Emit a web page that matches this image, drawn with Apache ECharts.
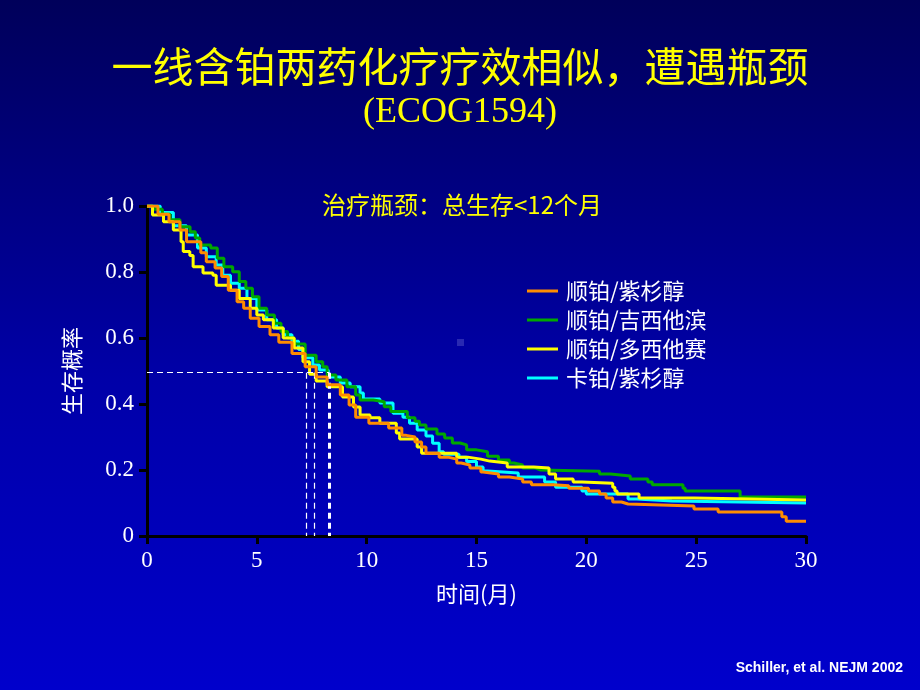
<!DOCTYPE html>
<html><head><meta charset="utf-8">
<script src="https://cdn.jsdelivr.net/npm/echarts@6/dist/echarts.min.js"></script>
<style>
html,body{margin:0;padding:0;width:920px;height:690px;overflow:hidden;background:linear-gradient(to bottom,#00005a 0%,#0000a8 55%,#0000cc 100%);}
#c{width:920px;height:690px;}
</style>
</head><body><div id="c"></div>
<script>
// ---- data ----
const seriesNames = ['顺铂/紫杉醇', '顺铂/吉西他滨', '顺铂/多西他赛', '卡铂/紫杉醇'];
const seriesColors = ['#ff8c00', '#00a800', '#ffff00', '#00ffff'];

const orangeT = [0,0.5,1.0,1.5,1.8,2.45,2.7,3.1,3.4,3.7,4.1,4.4,4.7,5.1,5.6,6.0,6.6,7.2,7.7,8.2,8.8,9.2,9.5,10.1,11.0,11.6,11.8,12.2,12.5,12.7,13.3,13.7,14.1,14.3,14.7,15.2,15.3,16.0,16.5,17.1,17.5,18.5,19.2,20.1,20.6,20.9,21.2,21.6,21.9,24.9,26.0,28.9,29.1,30];
const orangeS = [1.0,0.975,0.952,0.927,0.892,0.858,0.831,0.812,0.786,0.745,0.71,0.69,0.66,0.635,0.61,0.587,0.553,0.513,0.482,0.458,0.427,0.397,0.36,0.342,0.327,0.305,0.3,0.285,0.27,0.251,0.239,0.233,0.221,0.215,0.206,0.194,0.188,0.179,0.173,0.164,0.155,0.152,0.145,0.136,0.127,0.115,0.103,0.097,0.091,0.082,0.073,0.058,0.045,0.045];

const greenT = [0,0.3,0.7,1.05,1.5,1.96,2.2,2.4,2.9,3.2,3.5,3.9,4.2,4.5,4.8,5.1,5.45,5.8,6.1,6.4,6.7,7.2,7.7,8.0,8.2,8.6,9.1,9.5,9.7,10.3,10.8,11.1,11.85,12.2,12.4,12.7,13.2,13.55,13.9,14.25,14.55,15.0,15.5,16.0,16.5,16.7,17.1,17.7,17.9,20.6,21.1,22.0,22.8,23.0,24.4,24.5,27.0,30];
const greenS = [1.0,0.99,0.975,0.958,0.937,0.922,0.903,0.882,0.873,0.842,0.816,0.801,0.771,0.751,0.725,0.69,0.67,0.645,0.62,0.6,0.582,0.548,0.528,0.513,0.488,0.473,0.452,0.427,0.412,0.407,0.392,0.377,0.358,0.348,0.336,0.324,0.309,0.297,0.282,0.276,0.261,0.255,0.242,0.23,0.221,0.215,0.206,0.2,0.196,0.188,0.182,0.173,0.164,0.155,0.145,0.136,0.118,0.118];

const yellowT = [0,0.25,0.75,1.2,1.55,1.65,1.95,2.1,2.55,3.0,3.15,3.8,4.2,4.7,5.0,5.3,5.75,6.2,6.7,7.1,7.4,7.7,8.2,8.9,9.4,9.7,10.15,10.6,11.35,11.5,12.3,12.5,14.1,14.6,15.2,15.6,16.4,17.6,18.3,18.6,19.4,19.8,21.2,21.3,21.4,22.4,24.9,30];
const yellowS = [1.0,0.973,0.952,0.927,0.892,0.862,0.85,0.816,0.797,0.79,0.76,0.745,0.72,0.69,0.67,0.655,0.63,0.6,0.57,0.528,0.49,0.47,0.452,0.421,0.391,0.367,0.358,0.342,0.312,0.294,0.27,0.251,0.239,0.233,0.227,0.221,0.209,0.206,0.188,0.173,0.164,0.16,0.148,0.136,0.127,0.115,0.109,0.109];

const cyanT = [0,0.6,1.2,1.8,2.3,2.7,3.15,3.45,3.8,4.2,4.55,5.0,5.45,5.9,6.2,6.6,6.9,7.1,7.55,7.85,8.25,8.8,9.25,9.7,9.85,10.6,11.2,11.65,11.95,12.3,12.7,13.0,13.3,13.5,14.2,14.55,15.0,15.3,15.5,16.9,18.1,18.6,19.8,20.0,21.9,22.3,23.9,30];
const cyanS = [1.0,0.98,0.94,0.912,0.873,0.846,0.821,0.79,0.766,0.751,0.72,0.685,0.655,0.63,0.61,0.59,0.565,0.54,0.518,0.503,0.482,0.464,0.452,0.433,0.415,0.403,0.372,0.36,0.342,0.321,0.303,0.281,0.255,0.248,0.239,0.226,0.209,0.197,0.191,0.179,0.164,0.148,0.136,0.127,0.112,0.106,0.1,0.1];

const medianLevel = 0.495;
const medianTimes = [7.25, 7.6, 8.3];

const xTicks = [0, 5, 10, 15, 20, 25, 30];
const yTicks = [0, 0.2, 0.4, 0.6, 0.8, 1.0];

const titleLine1 = '一线含铂两药化疗疗效相似，遭遇瓶颈';
const titleLine2 = '(ECOG1594)';
const subTitle = '治疗瓶颈：总生存<12个月';
const xName = '时间(月)';
const yName = '生存概率';
const footnote = 'Schiller, et al. NEJM 2002';

// ---- build ----
const zip = (t, s) => t.map((v, i) => [v, s[i]]);
const curves = [zip(orangeT, orangeS), zip(greenT, greenS), zip(yellowT, yellowS), zip(cyanT, cyanS)];
const zOrder = [5, 3, 4, 2];

const chart = echarts.init(document.getElementById('c'), null, {renderer: 'canvas'});

const axisCommon = {
  axisLine: {show: true, onZero: false, lineStyle: {color: '#000', width: 3}},
  axisTick: {show: true, inside: false, length: 8, lineStyle: {color: '#000', width: 3}},
  splitLine: {show: false}
};

const markLines = [
  [{coord: [0, medianLevel]}, {coord: [Math.max(...medianTimes), medianLevel]}]
].concat(medianTimes.map((t, i) => [
  {coord: [t, medianLevel], lineStyle: {width: i === medianTimes.length - 1 ? 3 : 1.2}},
  {coord: [t, 0]}
]));

const series = curves.map((d, i) => ({
  name: seriesNames[i],
  type: 'line',
  step: 'end',
  data: d,
  showSymbol: false,
  symbol: 'none',
  z: zOrder[i],
  lineStyle: {color: seriesColors[i], width: 3},
  itemStyle: {color: seriesColors[i]},
  animation: false
}));
series.push({
  type: 'line',
  data: [],
  z: 1,
  silent: true,
  animation: false,
  markLine: {
    silent: true,
    symbol: ['none', 'none'],
    label: {show: false},
    lineStyle: {color: '#ffffff', type: [6, 4], width: 1.2},
    data: markLines,
    animation: false
  }
});

chart.setOption({
  backgroundColor: 'transparent',
  animation: false,
  grid: {left: 147, right: 114, top: 206, bottom: 154, containLabel: false},
  xAxis: Object.assign({
    type: 'value', min: xTicks[0], max: xTicks[xTicks.length - 1], interval: 5,
    name: xName, nameLocation: 'middle', nameGap: 47,
    nameTextStyle: {color: '#ffffff', fontSize: 22, fontFamily: 'Noto Sans CJK SC'},
    axisLabel: {color: '#ffffff', fontSize: 23, fontFamily: 'Liberation Serif', margin: 13}
  }, axisCommon),
  yAxis: Object.assign({
    type: 'value', min: yTicks[0], max: yTicks[yTicks.length - 1], interval: 0.2,
    name: yName, nameLocation: 'middle', nameGap: 64, nameRotate: 90,
    nameTextStyle: {color: '#ffffff', fontSize: 22, fontFamily: 'Noto Sans CJK SC'},
    axisLabel: {color: '#ffffff', fontSize: 23, fontFamily: 'Liberation Serif', margin: 13,
      formatter: v => (v === 0 ? '0' : v.toFixed(1))}
  }, axisCommon),
  legend: {
    data: seriesNames,
    orient: 'vertical',
    left: 522,
    top: 274,
    icon: 'rect',
    itemWidth: 31,
    itemHeight: 3,
    itemGap: 5,
    textStyle: {color: '#ffffff', fontSize: 22, lineHeight: 24, fontFamily: 'Noto Sans CJK SC', padding: [0, 0, 0, 3]},
    selectedMode: false
  },
  graphic: [
    {type: 'text', left: 'center', top: 46, style: {text: titleLine1, fill: '#ffff00', font: '41px "Noto Sans CJK SC"'}},
    {type: 'text', left: 'center', top: 95, style: {text: titleLine2, fill: '#ffff00', font: '36px "Liberation Serif"'}},
    {type: 'text', x: 462, y: 205, style: {text: subTitle, fill: '#ffff00', font: '24px "Noto Sans CJK SC"', align: 'center', verticalAlign: 'middle'}},
    {type: 'text', x: 903, y: 668, style: {text: footnote, fill: '#ffffff', font: 'bold 14px "Liberation Sans"', align: 'right', verticalAlign: 'middle'}},
    {type: 'rect', shape: {x: 457, y: 339, width: 7, height: 7}, style: {fill: 'rgba(90,90,200,0.45)'}, silent: true}
  ],
  series: series
});
</script>
</body></html>
